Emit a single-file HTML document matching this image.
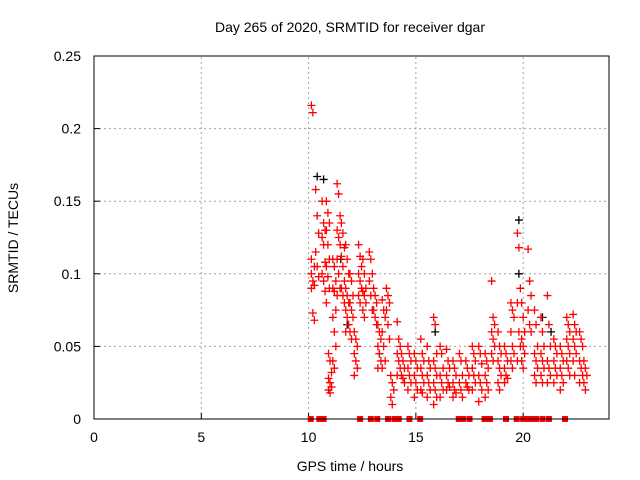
<!DOCTYPE html>
<html><head><meta charset="utf-8"><style>
body{margin:0;background:#fff;}
svg{display:block;font-family:"Liberation Sans",Arial,sans-serif;}
</style></head><body>
<svg id="chart" width="640" height="480" xmlns="http://www.w3.org/2000/svg">
<rect width="640" height="480" fill="#fff"/>
<text x="350" y="32" font-size="14" text-anchor="middle">Day 265 of 2020, SRMTID for receiver dgar</text>
<g id="grid"></g>
<g id="ticks"></g>
<g id="marks"></g>
<rect x="94" y="56" width="515" height="363" fill="none" stroke="#000" stroke-width="1"/>
<text x="350" y="471" font-size="14" text-anchor="middle">GPS time / hours</text>
<text x="18" y="238" font-size="14" text-anchor="middle" transform="rotate(-90 18 238)">SRMTID / TECUs</text>
</svg>
<script>
const xTicks=[0,5,10,15,20];
const yTicks=[0,0.05,0.1,0.15,0.2,0.25];
const yTickLabels=["0","0.05","0.1","0.15","0.2","0.25"];
const zeroHours=[10.1,10.5,10.7,12.4,12.9,13.2,13.7,14.0,14.2,14.7,15.2,17.0,17.2,17.5,18.2,18.45,19.2,19.7,20.0,20.2,20.4,20.6,20.9,21.2,21.95];
const streakHours=[10.2,10.4,10.7,10.9,11.0,11.2,11.4,11.6,11.8,12.0,12.2,12.4,12.6,12.9,13.1,13.3,13.5,13.7,13.9,14.2,14.4,14.7,15.0,15.3,15.6,15.9,16.2,16.5,16.8,17.1,17.4,17.7,18.0,18.3,18.6,18.9,19.2,19.5,19.8,20.0,20.3,20.6,20.9,21.2,21.5,21.8,22.1,22.4,22.7,22.9];
const streakValues=[
[0.216,0.211,0.105,0.1,0.095,0.092,0.09,0.073,0.068,0.11],
[0.158,0.14,0.128,0.115,0.105,0.098],
[0.15,0.135,0.13,0.125,0.12,0.108,0.1,0.095,0.088],
[0.15,0.142,0.135,0.13,0.12,0.11,0.105,0.098,0.09,0.08],
[0.045,0.04,0.032,0.028,0.025,0.022,0.02,0.018],
[0.11,0.105,0.095,0.09,0.088,0.075,0.07,0.06,0.05,0.04,0.035],
[0.162,0.155,0.14,0.13,0.125,0.12,0.11,0.1,0.09,0.085],
[0.135,0.128,0.118,0.112,0.105,0.095,0.09,0.085,0.08],
[0.12,0.11,0.1,0.09,0.085,0.08,0.075,0.07,0.065,0.06],
[0.1,0.095,0.085,0.08,0.075,0.07,0.06,0.055],
[0.06,0.055,0.05,0.045,0.04,0.035,0.03],
[0.12,0.112,0.105,0.1,0.095,0.09,0.085,0.08],
[0.11,0.1,0.09,0.088,0.085,0.08,0.075,0.07],
[0.115,0.11,0.1,0.095,0.085,0.075],
[0.09,0.085,0.08,0.075,0.07,0.065],
[0.065,0.06,0.055,0.05,0.045,0.04,0.035],
[0.082,0.075,0.07,0.06,0.05,0.04,0.035],
[0.09,0.085,0.08,0.075,0.065,0.055],
[0.03,0.025,0.02,0.015,0.01],
[0.067,0.055,0.05,0.045,0.04,0.035,0.03],
[0.045,0.04,0.035,0.03,0.028,0.025],
[0.05,0.045,0.04,0.035,0.03,0.025,0.02],
[0.045,0.04,0.035,0.03,0.025,0.02,0.015],
[0.055,0.045,0.04,0.035,0.03,0.025,0.02,0.018],
[0.05,0.04,0.035,0.03,0.025,0.02,0.015],
[0.07,0.065,0.045,0.04,0.035,0.03,0.025,0.02,0.015,0.01],
[0.05,0.045,0.035,0.03,0.025,0.02,0.015],
[0.048,0.04,0.035,0.03,0.025,0.022,0.02],
[0.04,0.035,0.03,0.025,0.02,0.018,0.015],
[0.045,0.04,0.03,0.025,0.02,0.015],
[0.04,0.035,0.03,0.025,0.022,0.02],
[0.05,0.045,0.04,0.035,0.03,0.025,0.02],
[0.05,0.045,0.038,0.03,0.025,0.02,0.012],
[0.045,0.04,0.035,0.03,0.025,0.02,0.015],
[0.095,0.07,0.065,0.06,0.055,0.05,0.045,0.04],
[0.06,0.05,0.045,0.04,0.035,0.03,0.025,0.02],
[0.05,0.045,0.04,0.035,0.03,0.028,0.025],
[0.08,0.075,0.07,0.06,0.05,0.045,0.04,0.035],
[0.128,0.118,0.09,0.08,0.06,0.05,0.04],
[0.08,0.07,0.06,0.055,0.05,0.045,0.04,0.035],
[0.117,0.095,0.085,0.075,0.065,0.06],
[0.075,0.065,0.05,0.045,0.04,0.035,0.03,0.025],
[0.07,0.06,0.05,0.045,0.04,0.035,0.03,0.025],
[0.085,0.065,0.05,0.04,0.035,0.03,0.025],
[0.055,0.05,0.045,0.04,0.035,0.03,0.025],
[0.05,0.045,0.04,0.035,0.03,0.025,0.02],
[0.07,0.065,0.06,0.055,0.05,0.045,0.04,0.035,0.03],
[0.072,0.065,0.06,0.055,0.05,0.045,0.04,0.03],
[0.06,0.055,0.05,0.04,0.035,0.03,0.025],
[0.04,0.035,0.03,0.025,0.02]
];
const blackHours=[10.4,10.7,11.5,11.8,19.8,19.8,20.9,21.3,13.3,15.9];
const blackValues=[0.167,0.165,0.11,0.065,0.137,0.1,0.07,0.06,0.045,0.06];

const X0=94,X1=609,Y0=419,Y1=56,XMAX=24,YMAX=0.25;
const xs=h=>X0+(X1-X0)*h/XMAX;
const ys=v=>Y0-(Y0-Y1)*v/YMAX;
const NS="http://www.w3.org/2000/svg";
function mk(t,a,p){const e=document.createElementNS(NS,t);for(const k in a)e.setAttribute(k,a[k]);p.appendChild(e);return e;}
const grid=document.getElementById('grid'),ticks=document.getElementById('ticks'),marks=document.getElementById('marks');
xTicks.forEach((t,i)=>{const x=xs(t);
 if(t>0){const g=mk('line',{x1:x,x2:x,y1:Y0,y2:Y1,stroke:'#a0a0a0','stroke-dasharray':'2,3'},grid);
 
 }
 const l=mk('line',{x1:x,x2:x,y1:Y0,y2:Y0-6,stroke:'#000'},ticks);
 
 
 const tx=mk('text',{x:x,y:442,'font-size':14,'text-anchor':'middle'},ticks);tx.textContent=String(t);
 
 
});
yTicks.forEach((t,i)=>{const y=ys(t);
 if(t>0){const g=mk('line',{x1:X0,x2:X1,y1:y,y2:y,stroke:'#a0a0a0','stroke-dasharray':'2,3'},grid);
 
 }
 const l=mk('line',{x1:X0,x2:X0+6,y1:y,y2:y,stroke:'#000'},ticks);
 
 
 const tx=mk('text',{x:81,y:y+5,'font-size':14,'text-anchor':'end'},ticks);tx.textContent=yTickLabels[i];
 
 
});
function plus(h,v,c,name){const x=xs(h),y=ys(v);
 const p=mk('path',{d:`M${x-4} ${y}H${x+4}M${x} ${y-4}V${y+4}`,stroke:c,'stroke-width':1.3,fill:'none'},marks);
 
 }
blackHours.forEach((h,i)=>plus(h,blackValues[i],'#000','black-point'));
streakHours.forEach((h,i)=>{streakValues[i].forEach((v,j)=>{const dh=(j%3-1)*0.07;plus(h+dh,v,'#ff0000','srmtid-point');});});
zeroHours.forEach(h=>{const x=xs(h);
 const r=mk('rect',{x:x-3,y:Y0-3,width:6,height:6,fill:'#ff0000'},marks);
 
 });
</script>
</body></html>
